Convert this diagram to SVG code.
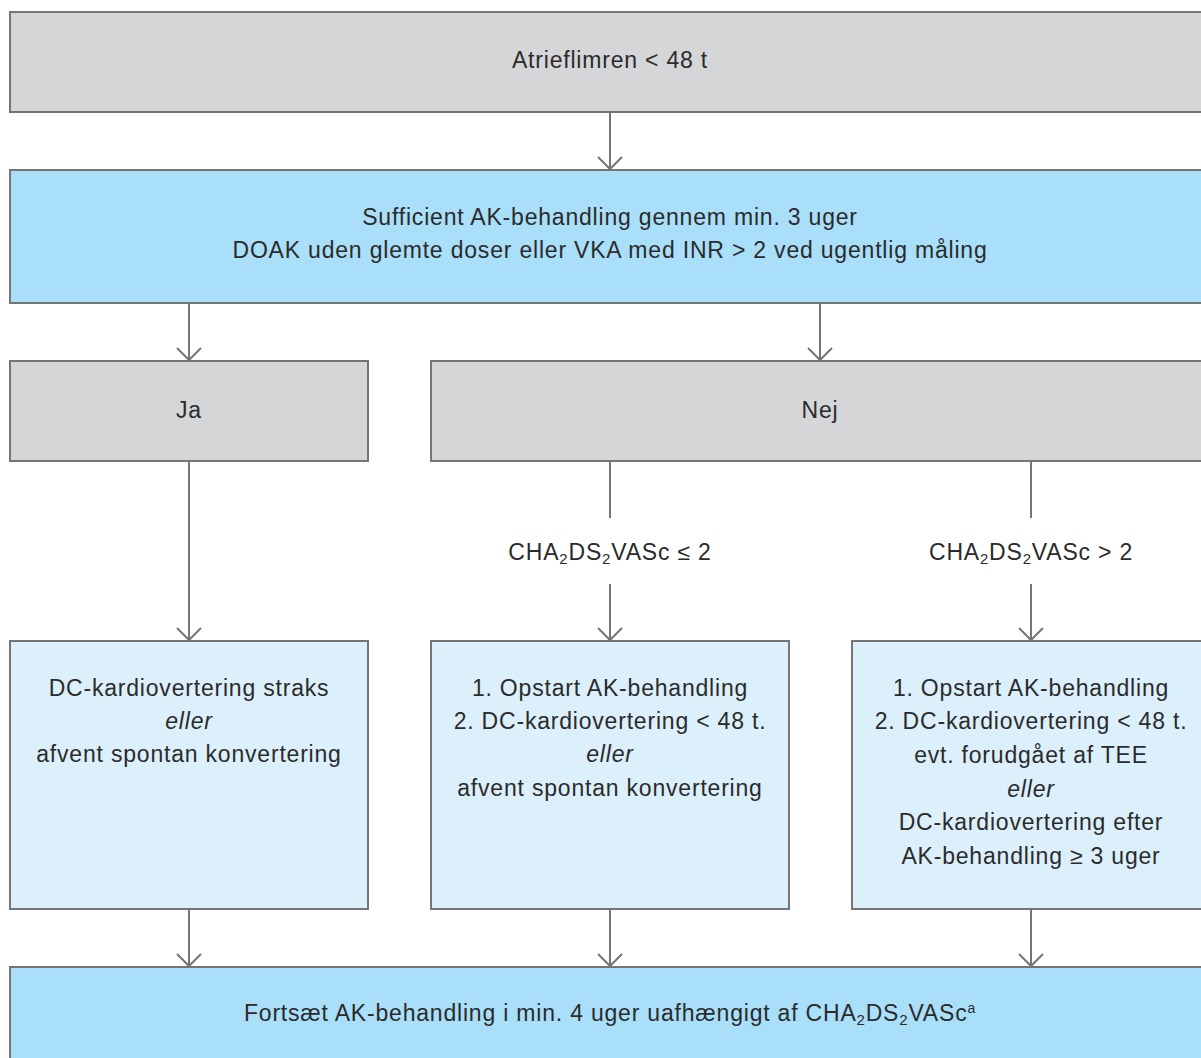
<svg xmlns="http://www.w3.org/2000/svg" width="1201" height="1058" viewBox="0 0 1201 1058">
<style>
.box{stroke:#757575;stroke-width:2}
.grey{fill:#d5d6d8}
.blue{fill:#a9dff9}
.pale{fill:#dcf0fc}
text{font-family:"Liberation Sans",Arial,sans-serif;font-size:23px;fill:#2b2b2b;text-anchor:middle;letter-spacing:0.8px}
.it{font-style:italic}
.con line{stroke:#757575;stroke-width:2}
</style>
<defs>
<marker id="arr" markerUnits="userSpaceOnUse" viewBox="-14 -14 28 28" markerWidth="28" markerHeight="28" refX="0" refY="0" orient="auto">
<path d="M-12,-12 L0,0 L-12,12" fill="none" stroke="#757575" stroke-width="2"/>
</marker>
</defs>
<rect width="1201" height="1058" fill="#ffffff"/>
<g id="n1"><rect class="box grey" x="10" y="12" width="1205" height="100"/><text x="610" y="68">Atrieflimren &lt; 48 t</text></g>
<g id="n2"><rect class="box blue" x="10" y="170" width="1205" height="133"/><text x="610" y="225">Sufficient AK-behandling gennem min. 3 uger</text><text x="610" y="258">DOAK uden glemte doser eller VKA med INR &gt; 2 ved ugentlig måling</text></g>
<g id="n3"><rect class="box grey" x="10" y="361" width="358" height="100"/><text x="189" y="418">Ja</text></g>
<g id="n4"><rect class="box grey" x="431" y="361" width="785" height="100"/><text x="820" y="418">Nej</text></g>
<g id="n5"><rect class="box pale" x="10" y="641" width="358" height="268"/>
<text x="189" y="696">DC-kardiovertering straks</text>
<text x="189" y="729" class="it">eller</text>
<text x="189" y="762">afvent spontan konvertering</text></g>
<g id="n6"><rect class="box pale" x="431" y="641" width="358" height="268"/>
<text x="610" y="696">1. Opstart AK-behandling</text>
<text x="610" y="729">2. DC-kardiovertering &lt; 48 t.</text>
<text x="610" y="762" class="it">eller</text>
<text x="610" y="796">afvent spontan konvertering</text></g>
<g id="n7"><rect class="box pale" x="852" y="641" width="365" height="268"/>
<text x="1031" y="696">1. Opstart AK-behandling</text>
<text x="1031" y="729">2. DC-kardiovertering &lt; 48 t.</text>
<text x="1031" y="763">evt. forudgået af TEE</text>
<text x="1031" y="797" class="it">eller</text>
<text x="1031" y="830">DC-kardiovertering efter</text>
<text x="1031" y="864">AK-behandling ≥ 3 uger</text></g>
<g id="n8"><rect class="box blue" x="10" y="967" width="1205" height="100"/>
<text x="610" y="1021">Fortsæt AK-behandling i min. 4 uger uafhængigt af CHA<tspan font-size="15" dy="4">2</tspan><tspan dy="-4">DS</tspan><tspan font-size="15" dy="4">2</tspan><tspan dy="-4">VASc</tspan><tspan font-size="14" dy="-8">a</tspan></text></g>
<g id="labels">
<text x="610" y="560">CHA<tspan font-size="15" dy="4">2</tspan><tspan dy="-4">DS</tspan><tspan font-size="15" dy="4">2</tspan><tspan dy="-4">VASc ≤ 2</tspan></text>
<text x="1031" y="560">CHA<tspan font-size="15" dy="4">2</tspan><tspan dy="-4">DS</tspan><tspan font-size="15" dy="4">2</tspan><tspan dy="-4">VASc &gt; 2</tspan></text>
</g>
<g class="con" id="connectors">
<line x1="610" y1="112" x2="610" y2="169" marker-end="url(#arr)"/>
<line x1="189" y1="303" x2="189" y2="360" marker-end="url(#arr)"/>
<line x1="820" y1="303" x2="820" y2="360" marker-end="url(#arr)"/>
<line x1="189" y1="461" x2="189" y2="640" marker-end="url(#arr)"/>
<line x1="610" y1="461" x2="610" y2="518"/>
<line x1="610" y1="584" x2="610" y2="640" marker-end="url(#arr)"/>
<line x1="1031" y1="461" x2="1031" y2="518"/>
<line x1="1031" y1="584" x2="1031" y2="640" marker-end="url(#arr)"/>
<line x1="189" y1="909" x2="189" y2="966" marker-end="url(#arr)"/>
<line x1="610" y1="909" x2="610" y2="966" marker-end="url(#arr)"/>
<line x1="1031" y1="909" x2="1031" y2="966" marker-end="url(#arr)"/>
</g>
</svg>
